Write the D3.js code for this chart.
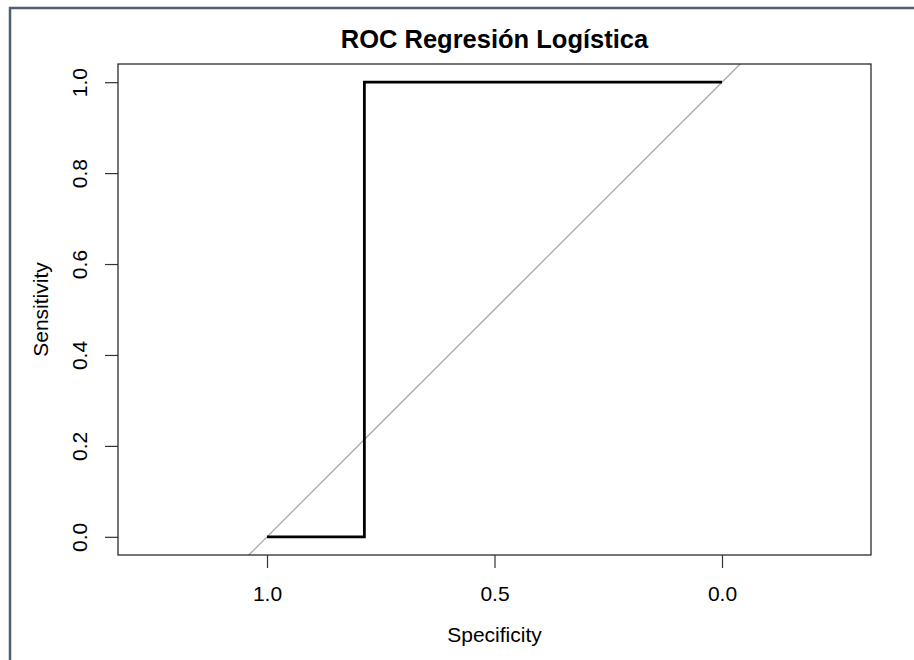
<!DOCTYPE html>
<html>
<head>
<meta charset="utf-8">
<script src="https://cdn.jsdelivr.net/npm/d3@7"></script>
<style>
  body { margin: 0; background: #fff; }
  svg { display: block; font-family: "Liberation Sans", Arial, sans-serif; }
</style>
</head>
<body>
<div id="chart"></div>
<script>
// ROC curve points (specificity, sensitivity)
const specificity = [1.0, 0.786, 0.786, 0.0];
const sensitivity = [0.0, 0.0, 1.0, 1.0];
const xTicks = [1.0, 0.5, 0.0];
const yTicks = [0.0, 0.2, 0.4, 0.6, 0.8, 1.0];

function main() {
    const W = 914, H = 660;
    const margin = {top: 64, right: 43, bottom: 105, left: 118},
        width = 871 - margin.left,
        height = 555 - margin.top;

    const svg = d3.select("#chart")
        .append("svg")
        .attr("width", W)
        .attr("height", H);

    // frame of the screenshot
    svg.append("path")
        .attr("d", `M10,${H} V8 H${W}`)
        .attr("fill", "none")
        .attr("stroke", "#4f5d75")
        .attr("stroke-width", 2.5);

    const g = svg.append("g")
        .attr("transform", `translate(${margin.left},${margin.top})`);

    const x = d3.scaleLinear().domain([1.3275, -0.3275]).range([0, width]);
    const y = d3.scaleLinear().domain([-0.04, 1.04]).range([height, 0]);

    g.append("clipPath").attr("id", "clip")
        .append("rect").attr("width", width).attr("height", height);

    // diagonal reference line
    g.append("line")
        .attr("clip-path", "url(#clip)")
        .attr("x1", x(1.04)).attr("y1", y(-0.04))
        .attr("x2", x(-0.04)).attr("y2", y(1.04))
        .attr("stroke", "#a8a8a8")
        .attr("stroke-width", 1.3);

    // ROC curve
    const pts = specificity.map((s, i) => [s, sensitivity[i]]);
    g.append("path")
        .datum(pts)
        .attr("fill", "none")
        .attr("stroke", "#000")
        .attr("stroke-width", 2.8)
        .attr("d", d3.line().x(d => x(d[0])).y(d => y(d[1])));

    // box
    g.append("rect")
        .attr("width", width).attr("height", height)
        .attr("fill", "none")
        .attr("stroke", "#1a1a1a")
        .attr("stroke-width", 1.2);

    // X axis
    const xa = g.append("g")
        .attr("transform", `translate(0,${height})`)
        .call(d3.axisBottom(x).tickValues(xTicks).tickFormat(d3.format(".1f"))
            .tickSize(13).tickPadding(13));
    xa.select(".domain").remove();
    xa.selectAll(".tick line").attr("stroke", "#333").attr("stroke-width", 1.2);
    xa.selectAll("text").attr("font-size", 21).attr("font-family", "Liberation Sans, Arial")
        .attr("fill", "#000").attr("dy", "0.95em");

    // Y axis
    const ya = g.append("g")
        .call(d3.axisLeft(y).tickValues(yTicks).tickFormat(d3.format(".1f"))
            .tickSize(13).tickPadding(0));
    ya.select(".domain").remove();
    ya.selectAll(".tick line").attr("stroke", "#333").attr("stroke-width", 1.2);
    ya.selectAll("text")
        .attr("font-size", 21).attr("font-family", "Liberation Sans, Arial")
        .attr("fill", "#000")
        .attr("x", null).attr("dy", null)
        .attr("text-anchor", "middle")
        .attr("transform", "translate(-31,0) rotate(-90)");

    // title
    svg.append("text")
        .attr("x", margin.left + width / 2)
        .attr("y", 48)
        .attr("text-anchor", "middle")
        .attr("font-size", 25.5)
        .attr("font-weight", "bold")
        .text("ROC Regresión Logística");

    // axis labels
    svg.append("text")
        .attr("x", margin.left + width / 2)
        .attr("y", 642)
        .attr("text-anchor", "middle")
        .attr("font-size", 21)
        .text("Specificity");

    svg.append("text")
        .attr("transform", `translate(48,${margin.top + height / 2}) rotate(-90)`)
        .attr("text-anchor", "middle")
        .attr("font-size", 21)
        .text("Sensitivity");
}

main()
</script>
</body>
</html>
